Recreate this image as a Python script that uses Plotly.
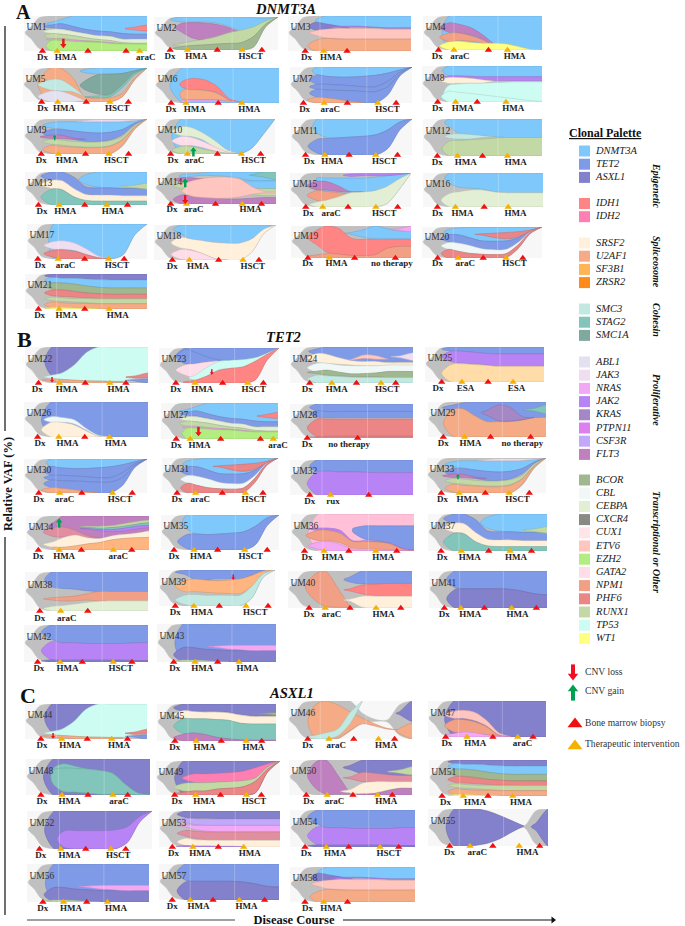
import plotly.graph_objects as go

SERIF = "Liberation Serif"
GENE_COLORS = {
    "ROOT": "#c0c0c0", "DNMT3A": "#7fc8fb", "TET2": "#7f9ae6", "ASXL1": "#8380cc", "IDH1": "#ff8585", "IDH2": "#ff7fb2",
    "SRSF2": "#fff0dc", "U2AF1": "#f5ab85", "SF3B1": "#ffb580", "ZRSR2": "#ff8a1a", "SMC3": "#c2e8e2", "STAG2": "#82c6bb",
    "SMC1A": "#7fa99f", "ABL1": "#e3e1f0", "JAK3": "#f0def0", "NRAS": "#f3a8f3", "JAK2": "#b884f5", "KRAS": "#a487c4",
    "PTPN11": "#de7ff0", "CSF3R": "#c2a8fb", "FLT3": "#bf80bf", "BCOR": "#a0b890", "CBL": "#eff8f6", "CEBPA": "#e2efd4",
    "CXCR4": "#8a8a85", "CUX1": "#ffe5e8", "ETV6": "#ffc5bf", "EZH2": "#b3ec80", "GATA2": "#ffdde8", "NPM1": "#f2a085",
    "PHF6": "#ec8585", "RUNX1": "#c2d9a5", "TP53": "#cdfcf2", "WT1": "#ffff80", "SF3B1L": "#ffdca8", "PHF6L": "#e08fa0",
    "GATA2D": "#ffc0d8",
}

# time knots (percent of disease course) used by every clone; each clone's lists align to the END of this list
KNOTS = [22, 30, 40, 50, 60, 70, 80, 90, 100]
ROOT_HEAD_T = [1, 6, 12, 18]
ROOT_HEAD_TOP = [52, 70, 94, 99]
ROOT_HEAD_BOT = [52, 34, 8, 2]
F = [100, 100, 100, 100, 100, 100, 100, 100, 100]
O = [0, 0, 0, 0, 0, 0, 0, 0, 0]
ROOT_FULL = ("ROOT", 2, F, O)

UM1 = [ROOT_FULL,
    ("DNMT3A", 16, [82,90,100,100,100,100,100,100,100], [74,78,70,62,57,55,50,48,48]),
    ("TET2", 16, [74,78,70,62,57,55,50,48,48], [66,64,58,50,44,42,34,34,34]),
    ("CEBPA", 16, [62,62,56,50,44,42,34,34,34], [50,48,44,38,33,30,24,22,22]),
    ("RUNX1", 16, [50,48,44,38,33,30,24,22,22], [36,36,32,29,27,24,20,20,20]),
    ("NRAS", 18, [34,34,31,29,27,24,20,20,20], [31,31,28,27,25,22,20,20,20]),
    ("EZH2", 18, [30,30,28,26,25,22,20,20,20], O),
    ("IDH1", 82, [68,74], [60,57])]
UM2 = [("ROOT", 2, F, [0,0,0,0,0,0,8,70,100]),
    ("DNMT3A", 13, [100,100,100,100,100,100,98,96,100], [85,85,85,82,72,58,60,80,100]),
    ("FLT3", 17, [80,83,82,78,68,52,52,52,52], [55,38,30,38,48,52,52,52,52]),
    ("RUNX1", 15, [20,26,32,40,52,60,70,88,100], [12,14,16,18,20,22,40,78,100]),
    ("BCOR", 15, [10,13,15,18,20,22,40,78,100], [0,0,0,0,0,0,8,70,100])]
UM3 = [ROOT_FULL,
    ("DNMT3A", 22, [100,100,100,100,100,100,100,100], [72,70,72,70,68,66,66,66]),
    ("ASXL1", 17, [82,78,72,66,66,66,66,66,66], [60,62,66,66,66,66,66,66,66]),
    ("JAK2", 36, [68,70,70,70,68,66,66,66], [66,66,68,68,66,65,65,65]),
    ("ETV6", 17, [58,62,65,64,64,64,62,62,62], [45,38,36,34,34,34,34,34,34]),
    ("U2AF1", 16, [30,36,34,34,34,34,34,34,34], O)]
UM4 = [ROOT_FULL,
    ("DNMT3A", 16, F, O),
    ("FLT3", 14, [80,76,66,45,18,2,2,2,2], [52,50,44,32,12,2,2,2,2]),
    ("NPM1", 14, [50,50,42,30,10,2,2,2,2], [25,28,26,20,5,2,2,2,2]),
    ("WT1", 14, [24,26,22,20,20,18,10,2,0], O)]
UM5 = [("ROOT", 2, F, [0,0,0,0,0,0,15,65,100]),
    ("U2AF1", 12, [100,100,72,15,12,12,25,70,100], [0,0,0,0,0,0,15,65,100]),
    ("SMC3", 12, [66,66,45,15,15,15,15,15,15], [35,32,30,15,15,15,15,15,15]),
    ("ABL1", 12, [32,32,20,4,4,4,4,4,4], [0,0,0,4,4,4,4,4,4]),
    ("DNMT3A", 46, [96,100,100,100,100,100], [86,82,82,84,92,100]),
    ("SMC1A", 46, [62,80,82,84,92,100], [36,24,22,50,85,100]),
    ("STAG2", 50, [18,22,50,85,100], [12,15,42,80,100])]
UM6 = [ROOT_FULL,
    ("DNMT3A", 12, F, O),
    ("IDH1", 20, [62,70,66,48,12,3,3,3,3], [45,38,36,30,8,3,3,3,3]),
    ("U2AF1", 20, [36,38,36,28,8,3,3,3,3], [12,10,10,10,5,3,3,3,3]),
    ("NRAS", 20, [8,8,8,8,5,3,3,3,3], [2,3,3,3,3,3,3,3,3])]
UM7 = [("ROOT", 2, F, [0,0,0,0,0,0,22,75,100]),
    ("DNMT3A", 18, F, [78,74,72,72,74,77,83,92,100]),
    ("TET2", 16, [78,74,72,72,74,77,83,92,100], [52,52,50,48,45,45,60,85,100]),
    ("TET2", 16, [52,52,50,48,45,45,60,85,100], [38,36,35,34,32,32,45,80,100]),
    ("TET2", 16, [38,36,35,34,32,32,45,80,100], [16,8,4,2,0,0,22,75,100]),
    ("U2AF1", 14, [16,14,10,4,1,1,1,1,1], [0,0,0,0,1,1,1,1,1])]
UM8 = [ROOT_FULL,
    ("DNMT3A", 17, F, [74,74,72,70,70,70,70,70,70]),
    ("JAK2", 18, [72,72,71,70,70,70,70,70,70], [68,68,66,62,60,60,59,59,59]),
    ("SRSF2", 15, [68,68,66,62,58,58,58,58,58], [52,52,52,52,58,58,58,58,58]),
    ("TP53", 18, [46,50,52,52,54,55,56,56,56], O),
    ("TP53", 16, [30,27,24,20,16,12,8,4,2], O)]
UM9 = [("ROOT", 2, F, [0,0,0,0,0,0,22,70,100]),
    ("DNMT3A", 15, [90,92,92,92,92,92,92,95,100], [74,72,66,62,60,62,70,88,100]),
    ("JAK3", 42, [96,98,98,98,98,100], [92,92,92,93,96,100]),
    ("TET2", 15, [70,70,66,62,60,62,70,88,100], [50,48,42,36,36,40,55,84,100]),
    ("FLT3", 13, [54,54,46,42,42,42,42,42,42], [44,44,42,42,42,42,42,42,42]),
    ("RUNX1", 15, [42,40,36,34,34,38,50,82,100], [28,26,22,20,20,24,42,78,100]),
    ("U2AF1", 15, [25,22,20,18,18,22,40,76,100], [2,0,0,0,0,0,25,72,100])]
UM10 = [("ROOT", 2, F, [0,0,0,0,0,0,15,55,100]),
    ("DNMT3A", 14, F, [0,0,0,0,0,0,15,55,100]),
    ("CEBPA", 14, [78,76,60,38,12,1,1,1,1], [52,50,40,18,5,1,1,1,1]),
    ("GATA2", 14, [50,48,36,20,6,1,1,1,1], [24,24,18,8,2,1,1,1,1]),
    ("RUNX1", 14, [22,22,14,8,2,1,1,1,1], [0,0,0,0,0,1,1,1,1])]
UM11 = [("ROOT", 2, F, [0,0,0,0,0,0,18,70,100]),
    ("DNMT3A", 18, F, [60,48,48,50,52,56,70,92,100]),
    ("TET2", 14, [44,46,48,50,52,56,70,92,100], [5,0,0,0,0,0,18,70,100])]
UM12 = [ROOT_FULL,
    ("DNMT3A", 18, F, [80,62,58,54,52,50,50,50,50]),
    ("SMC3", 18, [58,60,58,55,52,52,52,52,52], [48,46,46,50,52,52,52,52,52]),
    ("RUNX1", 16, [40,42,44,46,48,50,50,50,50], O)]
UM13 = [ROOT_FULL,
    ("DNMT3A", 44, [92,100,100,100,100,100], [62,54,52,50,50,50]),
    ("TET2", 13, [100,100,85,55,52,52,50,50,50], [75,72,48,32,30,30,28,28,28]),
    ("SRSF2", 13, [75,74,50,32,30,30,28,28,28], [50,48,25,10,10,10,10,10,10]),
    ("STAG2", 13, [48,46,25,14,12,12,12,12,12], O),
    ("RUNX1", 80, [60,66], [52,48])]
UM14 = [ROOT_FULL,
    ("DNMT3A", 20, [92,94,98,100,100,100,100,100,100], [82,86,90,88,86,80,72,72,72]),
    ("STAG2", 78, [91,100,100], [89,84,76]),
    ("FLT3", 16, [82,82,78,78,78,78,78,78,78], [70,72,78,78,78,78,78,78,78]),
    ("DNMT3A", 62, [72,72,72,72], [55,50,48,48]),
    ("RUNX1", 15, [65,66,55,55,55,55,55,55,55], [48,46,55,55,55,55,55,55,55]),
    ("RUNX1", 70, [48,48,48], [30,26,26]),
    ("FLT3", 15, [28,26,22,20,16,16,18,20,20], O),
    ("ETV6", 24, [60,72,80,84,84,78,55,40,40], [40,25,20,18,18,22,30,35,35])]
UM15 = [("ROOT", 2, F, [0,0,0,0,0,0,10,50,100]),
    ("DNMT3A", 22, [85,85,85,85,85,88,92,96,100], [58,45,44,44,44,48,60,82,100]),
    ("JAK2", 44, [97,98,98,98,99,100], [90,92,92,92,95,100]),
    ("FLT3", 14, [75,75,62,45,45,45,45,45,45], [50,50,46,44,45,45,45,45,45]),
    ("NPM1", 14, [48,46,42,38,38,38,38,38,38], [20,15,25,38,38,38,38,38,38]),
    ("CEBPA", 16, [15,20,30,42,44,48,60,82,100], [0,0,0,0,0,0,10,50,100])]
UM16 = [ROOT_FULL,
    ("DNMT3A", 18, F, [70,58,55,52,45,42,42,42,42]),
    ("CEBPA", 15, [40,45,50,50,44,42,42,42,42], O)]
UM17 = [("ROOT", 2, F, [0,0,0,0,0,0,12,70,100]),
    ("DNMT3A", 18, F, [0,0,0,0,0,0,12,70,100]),
    ("JAK3", 14, [50,52,45,28,8,1,1,1,1], [28,28,24,12,4,1,1,1,1]),
    ("PHF6", 14, [25,26,22,12,3,1,1,1,1], [5,0,0,0,0,1,1,1,1])]
UM18 = [("ROOT", 2, F, [0,0,0,0,0,0,22,75,100]),
    ("DNMT3A", 16, F, [75,60,55,50,48,48,60,88,100]),
    ("SRSF2", 14, [65,60,55,50,48,48,60,88,100], [34,30,18,4,0,0,22,75,100]),
    ("GATA2", 14, [30,28,18,4,1,1,1,1,1], [2,0,0,0,1,1,1,1,1])]
UM19 = [ROOT_FULL,
    ("IDH1", 14, [88,100,92,62,58,60,60,60,60], [40,18,12,8,8,10,30,36,36]),
    ("NPM1", 13, [10,14,12,8,8,10,30,36,36], O),
    ("DNMT3A", 44, [80,88,100,92,85,85], [74,65,60,60,60,60]),
    ("NRAS", 82, [92,100], [86,82])]
UM20 = [("ROOT", 2, F, [0,0,0,0,0,0,30,78,100]),
    ("DNMT3A", 18, [92,97,99,99,99,99,99,99,100], [75,75,65,55,54,55,65,88,100]),
    ("TET2", 16, [75,75,65,55,54,55,65,88,100], [52,48,40,30,27,28,50,84,100]),
    ("CBL", 16, [50,48,40,30,27,28,50,84,100], [28,22,15,12,11,14,42,82,100]),
    ("PHF6", 16, [28,22,15,12,11,14,42,82,100], [0,0,0,0,0,2,30,78,100]),
    ("PHF6", 44, [78,80,82,85,90,100], [74,66,62,68,86,100])]
UM21 = [ROOT_FULL,
    ("ASXL1", 16, F, [90,88,88,86,84,83,83,83,83]),
    ("DNMT3A", 16, [90,88,88,86,84,83,83,83,83], [76,75,72,66,62,60,60,60,60]),
    ("BCOR", 16, [74,74,71,66,62,60,60,60,60], [57,55,52,46,44,42,42,42,42]),
    ("PHF6", 16, [54,54,50,46,44,42,42,42,42], [38,36,34,32,30,30,29,29,29]),
    ("RUNX1", 16, [34,32,30,30,29,29,29,29,29], [24,22,20,18,16,15,15,15,15]),
    ("U2AF1", 16, [20,18,16,16,15,15,15,15,15], [4,2,2,0,0,0,0,0,0]),
    ("WT1", 16, [4,4,3,2,1,1,1,1,1], [0,0,0,0,1,1,1,1,1])]
UM22 = [ROOT_FULL,
    ("ASXL1", 16, [100,100,100,100,100,100,100,100,100], [20,20,30,85,100,100,100,100,100]),
    ("TP53", 16, [22,28,50,85,100,100,100,100,100], [12,10,8,6,6,5,5,4,4]),
    ("U2AF1", 14, [12,10,8,6,5,4,3,3,3], [5,3,1,0,0,0,3,3,3]),
    ("PHF6", 82, [20,28], [13,14]),
    ("TET2", 82, [10,12], [5,0])]
UM23 = [("ROOT", 2, F, [0,0,0,0,0,0,8,65,100]),
    ("TET2", 14, F, [55,56,60,62,65,67,72,85,100]),
    ("TET2", 14, [96,88,75,66,65,67,72,85,100], [55,56,60,62,65,67,72,85,100]),
    ("GATA2", 14, [52,55,60,62,38,38,38,38,38], [22,15,25,38,38,38,38,38,38]),
    ("TP53", 25, [22,45,62,65,67,72,85,100], [8,20,38,42,46,60,80,100]),
    ("IDH1", 20, [4,8,20,36,42,46,62,82,100], [0,0,0,0,0,0,8,65,100])]
UM24 = [ROOT_FULL,
    ("TET2", 15, [95,100,100,100,100,100,100,100,100], [80,80,68,60,60,60,60,60,60]),
    ("ETV6", 48, [66,78,76,66,66,66], [64,68,66,66,66,66]),
    ("JAK3", 82, [76,84], [70,62]),
    ("SRSF2", 14, [82,80,70,62,60,60,56,56,56], [58,55,52,50,48,48,48,48,48]),
    ("CBL", 14, [55,55,50,48,48,48,50,50,50], [30,32,30,26,26,28,32,32,32]),
    ("BCOR", 14, [33,36,30,25,26,28,32,32,32], [26,22,20,18,18,18,15,15,15]),
    ("SMC3", 14, [22,20,18,16,15,15,15,15,15], O)]
UM25 = [ROOT_FULL,
    ("TET2", 14, F, [88,88,85,82,80,80,80,80,80]),
    ("JAK2", 14, [88,88,85,82,80,80,80,80,80], [58,55,52,50,45,45,45,45,45]),
    ("SF3B1L", 14, [50,52,50,48,45,45,45,45,45], O)]
UM26 = [ROOT_FULL,
    ("TET2", 14, F, O),
    ("CBL", 16, [58,56,50,25,5,1,1,1,1], [42,42,38,20,2,1,1,1,1]),
    ("SRSF2", 14, [42,42,35,18,2,1,1,1,1], [0,0,0,0,0,1,1,1,1])]
UM27 = UM1
UM28 = [ROOT_FULL,
    ("TET2", 16, F, [80,78,78,78,78,78,78,78,78]),
    ("TET2", 16, [80,78,78,78,78,78,78,78,78], [62,60,60,60,60,60,60,60,60]),
    ("PHF6", 14, [56,56,56,56,56,56,56,56,56], [4,5,5,5,5,5,5,5,5]),
    ("PHF6", 14, [4,5,5,5,5,5,5,5,5], O)]
UM29 = [ROOT_FULL,
    ("TET2", 12, [92,98,100,100,100,100,100,100,100], [75,45,42,42,42,44,48,55,56]),
    ("U2AF1", 13, [80,80,60,44,44,44,48,55,56], O),
    ("KRAS", 45, [76,92,84,58,56,56], [62,46,46,50,56,56]),
    ("STAG2", 80, [82,92], [74,66])]
UM30 = UM7
UM31 = UM20
UM32 = [ROOT_FULL,
    ("TET2", 16, F, [65,68,66,66,65,64,64,64,64]),
    ("JAK2", 14, [66,68,66,66,65,64,64,64,64], O)]
UM33 = UM9
UM34 = [ROOT_FULL,
    ("FLT3", 18, [80,100,100,100,100,100,100,100,100], [60,46,44,36,34,42,46,50,56]),
    ("PHF6L", 14, [66,68,58,42,36,36,36,36,36], [40,38,44,36,36,36,36,36,36]),
    ("RUNX1", 44, [70,70,72,78,84,88], [66,64,66,70,76,80]),
    ("STAG2", 44, [66,64,66,70,76,80], [63,60,60,64,70,72]),
    ("JAK2", 44, [63,60,60,64,70,72], [62,56,54,56,62,66]),
    ("SRSF2", 14, [24,36,44,36,34,42,46,50,56], [8,8,12,18,22,30,34,36,37]),
    ("SF3B1", 22, [8,8,12,18,22,30,34,36,37], O)]
UM35 = [("ROOT", 2, F, [0,0,0,0,0,0,15,70,100]),
    ("DNMT3A", 18, F, [60,46,44,46,48,52,68,92,100]),
    ("TET2", 14, [44,46,44,46,48,52,68,92,100], [4,0,0,0,0,0,15,70,100])]
UM36 = [ROOT_FULL,
    ("GATA2D", 14, F, O),
    ("TET2", 50, [60,68,68,68,68,68], [52,32,28,20,8,0]),
    ("JAK2", 14, [62,62,56,28,28,26,22,8,2], [56,56,48,26,26,24,20,6,2]),
    ("NPM1", 12, [56,56,48,26,26,24,20,6,1], [28,28,22,8,6,5,3,1,1]),
    ("NRAS", 14, [24,26,18,5,3,2,1,1,0], [5,0,0,0,0,0,0,0,0])]
UM37 = UM13
UM38 = [ROOT_FULL,
    ("TET2", 16, F, [62,58,56,52,50,50,50,50,50]),
    ("NPM1", 15, [34,36,38,44,50,50,50,50,50], [28,26,26,28,26,26,26,26,26]),
    ("CEBPA", 15, [12,14,18,22,25,26,26,26,26], O)]
UM39 = [("ROOT", 2, F, [0,0,0,0,0,0,22,80,100]),
    ("TET2", 14, F, [88,75,72,72,72,75,85,97,100]),
    ("RUNX1", 45, [74,74,75,82,96,100], [72,72,72,80,94,100]),
    ("SF3B1", 14, [70,75,72,70,72,75,85,97,100], [40,40,38,36,35,35,55,90,100]),
    ("SMC3", 14, [30,32,30,30,30,30,55,90,100], [4,0,0,0,0,0,22,80,100])]
UM40 = [ROOT_FULL,
    ("NPM1", 14, [92,100,55,2,2,2,2,2,2], [20,5,2,2,2,2,2,2,2]),
    ("TET2", 45, [84,100,100,100,100,100], [70,65,66,66,66,66]),
    ("IDH1", 45, [52,62,64,66,66,66], [46,38,34,32,32,32]),
    ("SRSF2", 45, [24,32,32,32,32,32], [18,2,0,0,0,0])]
UM41 = [ROOT_FULL,
    ("TET2", 15, F, [55,52,52,52,52,50,45,38,36]),
    ("ASXL1", 15, [50,52,52,52,52,50,45,38,36], O)]
UM42 = [ROOT_FULL,
    ("TET2", 14, F, [62,52,52,50,50,50,50,52,52]),
    ("JAK2", 14, [55,52,52,50,50,50,50,52,52], [6,5,5,5,5,5,5,4,4]),
    ("ASXL1", 14, [6,5,5,5,5,5,5,4,4], O)]
UM43 = [ROOT_FULL,
    ("TET2", 15, F, O),
    ("ASXL1", 14, [38,38,34,32,30,30,30,30,30], O),
    ("RUNX1", 14, [5,5,4,2,1,1,1,1,1], [0,0,0,0,1,1,1,1,1]),
    ("NRAS", 42, [42,44,44,44,44,44], [38,34,32,30,30,30])]
UM44 = UM22
UM45 = [ROOT_FULL,
    ("ASXL1", 14, F, [80,80,80,80,78,72,68,68,68]),
    ("BCOR", 80, [75,77], [73,70]),
    ("SRSF2", 14, [82,80,78,78,76,70,66,66,66], [62,60,60,58,56,48,46,46,46]),
    ("STAG2", 14, [60,60,60,58,56,48,46,46,46], [20,20,16,10,6,3,2,2,2]),
    ("FLT3", 14, [18,22,18,10,6,3,2,2,2], O)]
UM46 = [("ROOT", 2, [100,100,100,100,68,52,50,90,100], [0,0,0,20,42,46,45,10,0]),
    ("U2AF1", 16, [90,100,90,72,55,40,28,24,24], [2,0,2,22,40,34,26,24,24]),
    ("SMC3", 14, [10,16,26,70,100,100,100,100,100], [0,0,8,40,100,100,100,100,100]),
    ("U2AF1", 87, [28,42], [14,0]),
    ("ASXL1", 87, [72,100], [64,46])]
UM47 = [ROOT_FULL,
    ("ASXL1", 14, F, O),
    ("ETV6", 14, [72,74,68,45,12,1,1,1,1], [52,52,45,30,6,1,1,1,1]),
    ("NPM1", 14, [48,48,42,28,5,1,1,1,1], [14,12,10,6,2,1,1,1,1]),
    ("NRAS", 14, [10,14,12,6,2,1,1,1,1], [0,0,0,0,0,1,1,1,1])]
UM48 = [ROOT_FULL,
    ("ASXL1", 14, F, O),
    ("STAG2", 20, [75,87,80,72,68,60,30,6,0], [30,10,8,5,2,2,2,0,0]),
    ("STAG2", 20, [70,75,74,72,68,60,30,6,0], [30,10,8,5,2,2,2,0,0])]
UM49 = [("ROOT", 2, F, [0,0,0,0,0,0,6,68,100]),
    ("ASXL1", 15, F, [0,0,0,0,0,0,6,68,100]),
    ("IDH2", 21, [62,62,64,66,70,80,92,100], [38,36,38,40,42,50,82,100]),
    ("RUNX1", 14, [34,36,36,38,40,42,50,82,100], [12,10,12,18,20,24,40,76,100]),
    ("PHF6", 14, [8,12,12,18,20,24,40,76,100], [0,0,0,0,0,0,6,68,100])]
UM50 = [ROOT_FULL,
    ("FLT3", 15, [95,100,55,2,2,2,2,2,2], [18,3,2,2,2,2,2,2,2]),
    ("ASXL1", 44, [85,100,100,100,100,100], [72,60,57,55,55,55]),
    ("RUNX1", 80, [72,81], [62,57]),
    ("PHF6L", 44, [52,65,62,58,56,56], [46,38,38,38,38,38]),
    ("SRSF2", 42, [16,34,38,38,38,38], [6,4,6,14,19,19]),
    ("FLT3", 55, [2,4,12,19,19], O)]
UM51 = UM21
UM52 = [("ROOT", 2, F, [0,0,0,0,0,0,18,72,100]),
    ("ASXL1", 14, F, [0,0,0,0,0,0,18,72,100]),
    ("JAK2", 24, [48,48,48,48,50,58,85,100], [4,0,0,0,0,16,70,100])]
UM53 = [ROOT_FULL,
    ("ASXL1", 15, F, [82,80,80,78,78,78,78,78,78]),
    ("CSF3R", 15, [80,78,78,78,78,78,78,78,78], [68,62,60,60,60,60,60,60,60]),
    ("NRAS", 15, [62,60,60,60,60,60,60,60,60], [56,48,44,42,42,42,42,42,42]),
    ("PHF6L", 15, [46,44,42,42,42,42,42,42,42], [30,24,20,19,19,19,19,19,19]),
    ("SRSF2", 15, [24,20,19,19,19,19,19,19,19], [4,2,0,0,0,0,0,0,0]),
    ("JAK2", 14, [4,3,3,2,2,1,1,1,1], [0,0,0,0,0,1,1,1,1])]
UM54 = UM42
UM55 = [("ROOT", 2, [100,100,100,94,82,68,54,95,100], [0,0,2,8,20,38,50,5,0]),
    ("ASXL1", 15, [100,100,100,94,82,68,54,54,54], [0,0,2,8,20,38,54,54,54]),
    ("ASXL1", 86, [62,100], [42,0])]
UM56 = UM43
UM57 = UM41
UM58 = UM3

ALL_CLONES = [UM1, UM2, UM3, UM4, UM5, UM6, UM7, UM8, UM9, UM10, UM11, UM12, UM13, UM14, UM15, UM16, UM17, UM18, UM19, UM20,
    UM21, UM22, UM23, UM24, UM25, UM26, UM27, UM28, UM29, UM30, UM31, UM32, UM33, UM34, UM35, UM36, UM37, UM38, UM39, UM40,
    UM41, UM42, UM43, UM44, UM45, UM46, UM47, UM48, UM49, UM50, UM51, UM52, UM53, UM54, UM55, UM56, UM57, UM58]

# bone marrow biopsy times, therapy times, label times and label texts for each patient
BIOPSY = [[15,52,83],[13,51,87],[14,48],[13,55],[15,51,85],[13,51],[11,47,87],[13,46],[14,50,85],[13,52,88],
    [12,48,88],[12,50],[11,49,84],[13,50,88],[13,48,89],[12,51],[9,48,81],[15,53,86],[14,53,87],[13,51,84],
    [11,49],[11,49,82],[14,53,87],[16,54,86],[14,53],[11,49],[13,51,85],[14,55],[13,53,87],[12,47,88],
    [13,52,87],[16,64],[12,49,86],[10,45,86],[11,48,90],[11,47,86],[11,51,87],[12,51],[14,52,94],[17,50,91],
    [13,47,91],[11,47,87],[14,51],[13,51,84],[15,54,88],[16,53,86],[15,55,89],[12,50,82],[15,52,85],[14,52,84],
    [11,50],[10,47,79],[11,49],[12,47,87],[18,54,93],[13,49],[11,45,88],[12,46]]
THERAPY = [[27,94],[27,71],[29],[26,71],[28,70],[25,70],[28,72],[28,70],[28,69],[27,72],
    [28,70],[29,71],[28,67],[26,72],[27,71],[27,71],[26,68],[29,73],[32],[30,70],
    [28,69],[28,69],[30,74],[34,74],[31,74],[28,69],[25,96],[],[31],[29,72],
    [29,72],[33],[27,69],[27,71],[28,71],[27,69],[28,69],[29],[30,75],[30,71],
    [27,70],[29,72],[32,69],[30,71],[33,75],[33,73],[33,76],[29,70],[32,73],[31,72],
    [29,71],[27,67],[28,70],[29,72],[35,76],[30,66],[26,67],[27]]
LABEL_T = [[15,34,99],[13,34,78],[15,35],[12,31,77],[16,33,76],[13,32,76],[12,33,80],[13,34,76],[14,35,75],[15,33,82],
    [15,34,77],[12,36,78],[14,33,72],[14,32,79],[15,34,78],[12,33,77],[11,32,75],[15,36,81],[14,38,84],[13,36,77],
    [12,34,76],[10,34,76],[14,36,79],[14,38,79],[11,34,77],[13,35,74],[13,33,100],[14,48],[13,36,80],[12,33,78],
    [13,33,79],[16,35],[13,34,76],[10,31,75],[11,34,76],[13,34,75],[12,35,74],[12,34],[14,37,83],[17,35,77],
    [13,35,75],[12,35,78],[15,38,76],[14,37,77],[15,40,81],[16,39,79],[16,40,80],[13,35,75],[17,39,79],[16,37,79],
    [14,39,78],[11,34,73],[12,34,75],[13,36,79],[18,41,83],[13,36,73],[11,33,73],[14,33]]
LABEL_TEXT = [["Dx","HMA","araC"],["Dx","HMA","HSCT"],["Dx","HMA"],["Dx","araC","HMA"],["Dx","HMA","HSCT"],["Dx","HMA","HMA"],
    ["Dx","araC","HSCT"],["Dx","HMA","HMA"],["Dx","HMA","HSCT"],["Dx","araC","HSCT"],["Dx","HMA","HSCT"],["Dx","HMA","HMA"],
    ["Dx","HMA","HMA"],["Dx","araC","HMA"],["Dx","araC","HSCT"],["Dx","HMA","HMA"],["Dx","araC","HSCT"],["Dx","HMA","HSCT"],
    ["Dx","HMA","no therapy"],["Dx","araC","HSCT"],["Dx","HMA","HMA"],["Dx","HMA","HMA"],["Dx","HMA","HSCT"],["Dx","HMA","HSCT"],
    ["Dx","ESA","ESA"],["Dx","HMA","HMA"],["Dx","HMA","araC"],["Dx","no therapy"],["Dx","HMA","no therapy"],["Dx","araC","HSCT"],
    ["Dx","araC","HSCT"],["Dx","rux"],["Dx","HMA","HSCT"],["Dx","HMA","araC"],["Dx","HMA","HSCT"],["Dx","HMA","HMA"],
    ["Dx","HMA","HMA"],["Dx","araC"],["Dx","HMA","HSCT"],["Dx","araC","HMA"],["Dx","HMA","HMA"],["Dx","HMA","HSCT"],
    ["Dx","HMA","HMA"],["Dx","HMA","HMA"],["Dx","HMA","HMA"],["Dx","araC","HMA"],["Dx","HMA","araC"],["Dx","HMA","araC"],
    ["Dx","HMA","HSCT"],["Dx","araC","HMA"],["Dx","HMA","HMA"],["Dx","HMA","HSCT"],["Dx","HMA","HMA"],["Dx","HMA","HSCT"],
    ["Dx","araC","HMA"],["Dx","HMA","HMA"],["Dx","HMA","HMA"],["Dx","HMA"]]
# CNV events: patient number, time, relative VAF, large flag
CNV_LOSS = [(1,32,16,1),(14,25,8,1),(22,22,6,0),(23,44,28,0),(27,32,15,1),(39,64,77,0),(44,23,6,0)]
CNV_GAIN = [(9,25,50,0),(10,32,12,1),(14,25,72,1),(33,26,50,0),(34,27,85,1)]

# layout only: left, right, top, bottom of each panel, in page pixels
PANEL_BOX = [(24,147,16,51),(154,278,17,50),(288,411,16,51),(423,542,16,50),(23,147,68,102),(155,279,68,103),(290,412,67,103),(422,542,66,102),
    (24,147,119,154),(155,275,119,154),(291,412,119,155),(423,542,119,156),(25,147,172,205),(155,276,172,204),(290,411,173,207),(423,543,173,207),
    (27,147,224,259),(154,276,225,260),(291,411,226,258),(422,542,227,258),(25,147,274,309),(25,148,347,383),(159,279,348,383),(290,413,347,383),(425,544,347,382),
    (24,148,402,437),(161,278,403,439),(290,413,404,438),(428,546,402,437),(24,147,459,493),(162,278,458,493),(290,413,460,495),(427,546,458,493),
    (26,149,516,550),(161,279,515,550),(291,414,514,551),(428,547,514,551),(25,148,572,611),(159,275,570,606),(288,412,571,608),(429,547,571,608),
    (24,148,625,662),(157,276,624,662),(25,147,704,739),(157,276,704,741),(288,412,701,739),(428,546,701,737),(26,150,759,795),(156,280,761,795),
    (289,412,760,795),(429,547,760,796),(27,152,811,849),(159,280,811,847),(290,415,810,847),(428,548,809,846),(27,149,864,902),(159,279,864,900),(290,415,867,902)]
SEAM_T = [26, 63]
LABEL_AXIS_RANGE = [-36, 100]   # annotation strip under each panel, same scale as the panel

LEGEND_GROUPS = [(151,["DNMT3A","TET2","ASXL1"]),(203.5,["IDH1","IDH2"]),(243,["SRSF2","U2AF1","SF3B1","ZRSR2"]),
    (309,["SMC3","STAG2","SMC1A"]),(362,["ABL1","JAK3","NRAS","JAK2","KRAS","PTPN11","CSF3R","FLT3"]),
    (480,["BCOR","CBL","CEBPA","CXCR4","CUX1","ETV6","EZH2","GATA2","NPM1","PHF6","RUNX1","TP53","WT1"])]
LEGEND_COLORS = {"SF3B1": "#ffb555"}
CATEGORY_LABELS = [("Epigenetic",185),("Spliceosome",262),("Cohesin",320),("Proliferative",400),("Transcriptional or Other",542)]


def darker(hex_color, k=0.82):
    r, g, b = int(hex_color[1:3], 16), int(hex_color[3:5], 16), int(hex_color[5:7], 16)
    return f"rgb({int(r*k)},{int(g*k)},{int(b*k)})"


def clone_outline(clone):
    gene, tip, tops, bots = clone
    t = KNOTS[-len(tops):]
    t, tops, bots = list(t), list(tops), list(bots)
    while len(t) > 1 and tops[-1] == bots[-1] and tops[-2] == bots[-2]:
        t.pop(); tops.pop(); bots.pop()
    if gene == "ROOT":
        head_t, head_top, head_bot = ROOT_HEAD_T, ROOT_HEAD_TOP, ROOT_HEAD_BOT
    else:
        mid = (tops[0] + bots[0]) / 2
        head_t, head_top, head_bot = [tip], [mid], [mid]
    if tops[-1] != bots[-1]:
        t = t + [107]
        tops = tops + [tops[-1]]
        bots = bots + [bots[-1]]
    xs = list(head_t) + t + t[::-1] + list(head_t)[::-1]
    ys = list(head_top) + tops + bots[::-1] + list(head_bot)[::-1]
    return xs, ys


def add_block_arrow(x, y, down, color, xaxis, yaxis, head_size, bar_width, bar_size, offset):
    sign = 1 if down else -1
    fig.add_trace(go.Scatter(x=[x], y=[y + sign * offset], mode="markers", cliponaxis=False, hoverinfo="skip", xaxis=xaxis, yaxis=yaxis,
                             marker=dict(symbol="line-ns", size=bar_size, line=dict(width=bar_width, color=color))))
    fig.add_trace(go.Scatter(x=[x], y=[y], mode="markers", cliponaxis=False, hoverinfo="skip", xaxis=xaxis, yaxis=yaxis,
                             marker=dict(symbol="triangle-down" if down else "triangle-up", size=head_size, color=color, line=dict(width=0))))


fig = go.Figure()
layout = dict(width=685, height=926, margin=dict(l=0, r=0, t=0, b=0), paper_bgcolor="white", plot_bgcolor="rgba(0,0,0,0)",
              showlegend=False, autosize=False, hovermode=False,
              xaxis=dict(domain=[0, 1], range=[0, 685], visible=False, fixedrange=True),
              yaxis=dict(domain=[0, 1], range=[926, 0], visible=False, fixedrange=True))

for i, clones in enumerate(ALL_CLONES):
    n = i + 2
    xa, ya, yl = f"x{n}", f"y{n}", f"y{n + 100}"
    L, R, T, B = PANEL_BOX[i]
    strip = (B - T) * (-LABEL_AXIS_RANGE[0]) / 100
    layout[f"xaxis{n}"] = dict(domain=[L / 685, R / 685], range=[0, 100], visible=False, fixedrange=True)
    layout[f"yaxis{n}"] = dict(domain=[1 - B / 926, 1 - T / 926], range=[0, 100], visible=False, fixedrange=True, anchor=xa)
    layout[f"yaxis{n + 100}"] = dict(domain=[1 - (B + strip) / 926, 1 - T / 926], range=LABEL_AXIS_RANGE, visible=False, fixedrange=True, anchor=xa)
    fig.add_trace(go.Scatter(x=[0, 100, 100, 0, 0], y=[0, 0, 100, 100, 0], mode="none", fill="toself",
                             fillcolor="#f7f7f7", xaxis=xa, yaxis=ya, hoverinfo="skip"))
    for clone in clones:
        xs, ys = clone_outline(clone)
        col = GENE_COLORS[clone[0]]
        edge = col if clone[0] == "ROOT" else darker(col)
        fig.add_trace(go.Scatter(x=xs, y=ys, mode="lines", fill="toself", fillcolor=col,
                                 line=dict(color=edge, width=0.5, shape="spline", smoothing=0.9),
                                 xaxis=xa, yaxis=ya, hoverinfo="skip"))
    for s in SEAM_T:
        fig.add_trace(go.Scatter(x=[s, s], y=[0, 100], mode="lines", line=dict(color="rgba(255,255,255,0.35)", width=0.7),
                                 xaxis=xa, yaxis=ya, hoverinfo="skip"))
    fig.add_trace(go.Scatter(x=[2], y=[66], mode="text", text=[f"UM{i+1}"], textposition="middle right",
                             textfont=dict(family=SERIF, size=9.5, color="#333333"), xaxis=xa, yaxis=ya, cliponaxis=False, hoverinfo="skip"))
    fig.add_trace(go.Scatter(x=BIOPSY[i], y=[0] * len(BIOPSY[i]), mode="markers", cliponaxis=False, hoverinfo="skip",
                             marker=dict(symbol="triangle-up", size=6.5, color="#f01010", line=dict(width=0)), xaxis=xa, yaxis=yl))
    fig.add_trace(go.Scatter(x=THERAPY[i], y=[0] * len(THERAPY[i]), mode="markers", cliponaxis=False, hoverinfo="skip",
                             marker=dict(symbol="triangle-up", size=6.5, color="#f5b000", line=dict(width=0)), xaxis=xa, yaxis=yl))
    fig.add_trace(go.Scatter(x=LABEL_T[i], y=[-19] * len(LABEL_T[i]), mode="text", text=[f"<b>{t}</b>" for t in LABEL_TEXT[i]],
                             textposition="middle center", textfont=dict(family=SERIF, size=9, color="#222222"),
                             cliponaxis=False, xaxis=xa, yaxis=yl, hoverinfo="skip"))
    for events, is_down, color in ((CNV_LOSS, True, "#f01020"), (CNV_GAIN, False, "#00a050")):
        for e in events:
            if e[0] == i + 1:
                if e[3]:
                    add_block_arrow(e[1], e[2], is_down, color, xa, yl, 5.5, 2.5, 5, 9)
                else:
                    add_block_arrow(e[1], e[2], is_down, color, xa, yl, 3.5, 1.5, 3, 5)

# page furniture drawn on the full-page axes
fig.add_trace(go.Scatter(x=[5, 5, None, 5, 5], y=[26, 431, None, 537, 915], mode="lines", line=dict(color="#222222", width=1.3), hoverinfo="skip"))
fig.add_trace(go.Scatter(x=[27, 235], y=[920, 920], mode="lines", line=dict(color="#444444", width=1.2), hoverinfo="skip"))
fig.add_trace(go.Scatter(x=[343, 553], y=[920, 920], mode="lines", line=dict(color="#111111", width=1.2), hoverinfo="skip"))
fig.add_trace(go.Scatter(x=[553], y=[920], mode="markers", marker=dict(symbol="triangle-right", size=6, color="#111111"), hoverinfo="skip"))
fig.add_trace(go.Scatter(x=[294], y=[921], mode="text", text=["<b>Disease Course</b>"], textfont=dict(family=SERIF, size=12.5, color="#111111"), hoverinfo="skip"))

sw_y, sw_c, sw_t = [], [], []
for start, genes in LEGEND_GROUPS:
    for j, g in enumerate(genes):
        sw_y.append(start + j * 13.2)
        sw_c.append(LEGEND_COLORS.get(g, GENE_COLORS[g]))
        sw_t.append(f"<i>{g}</i>")
fig.add_trace(go.Scatter(x=[584.5] * len(sw_y), y=sw_y, mode="markers", hoverinfo="skip",
                         marker=dict(symbol="square", size=11, color=sw_c, line=dict(width=0))))
fig.add_trace(go.Scatter(x=[596] * len(sw_y), y=sw_y, mode="text", text=sw_t, textposition="middle right", hoverinfo="skip",
                         textfont=dict(family=SERIF, size=10.5, color="#222222")))
add_block_arrow(573, 676, True, "#f01020", "x", "y", 9, 4, 8, -6)
add_block_arrow(573, 689, False, "#00a050", "x", "y", 9, 4, 8, -6)
fig.add_trace(go.Scatter(x=[575], y=[724], mode="markers", marker=dict(symbol="triangle-up", size=13, color="#f01010"), hoverinfo="skip"))
fig.add_trace(go.Scatter(x=[575], y=[746], mode="markers", marker=dict(symbol="triangle-up", size=13, color="#f5b000"), hoverinfo="skip"))
fig.add_trace(go.Scatter(x=[585, 585, 585, 585], y=[673, 692, 724, 745], mode="text", textposition="middle right", hoverinfo="skip",
                         text=["CNV loss", "CNV gain", "Bone marrow biopsy", "Therapeutic intervention"],
                         textfont=dict(family=SERIF, size=9.6, color="#333333")))


def page_text(x, y, text, size, angle=0, color="#111111"):
    return dict(xref="paper", yref="paper", x=x / 685, y=1 - y / 926, text=text, showarrow=False, xanchor="center", yanchor="middle",
                textangle=angle, font=dict(family=SERIF, size=size, color=color))


annotations = [
    page_text(23, 12, "<b>A</b>", 20), page_text(25, 339, "<b>B</b>", 22), page_text(28, 695, "<b>C</b>", 22),
    page_text(285, 9, "<b><i>DNMT3A</i></b>", 14.6), page_text(283, 337, "<b><i>TET2</i></b>", 14.6), page_text(291, 693, "<b><i>ASXL1</i></b>", 14.6),
    page_text(8, 484, "<b>Relative VAF (%)</b>", 12.5, angle=-90),
    page_text(605, 133, "<b><u>Clonal Palette</u></b>", 12),
]
for text, y in CATEGORY_LABELS:
    annotations.append(page_text(657, y, f"<b><i>{text}</i></b>", 10, angle=90))
layout["annotations"] = annotations
fig.update_layout(**layout)
fig.write_html("out.html", config={"displayModeBar": False}, post_script="document.body.style.margin='0';")
